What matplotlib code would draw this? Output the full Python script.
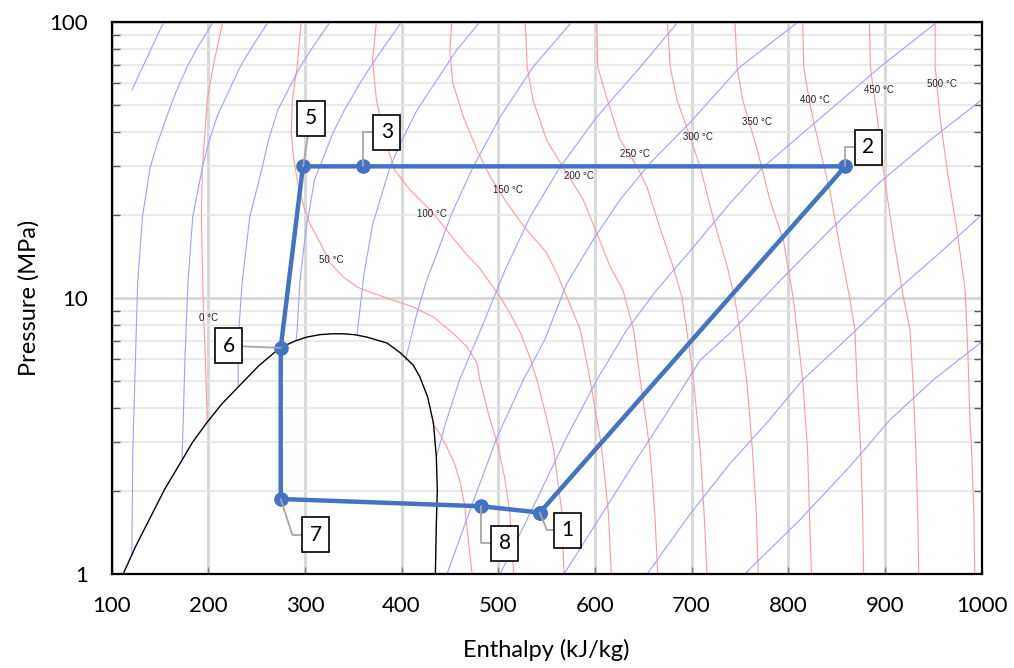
import matplotlib
matplotlib.use('Agg')
import matplotlib.pyplot as plt
from matplotlib.ticker import FixedLocator, NullFormatter

plt.rcParams['font.family'] = ['Lato', 'DejaVu Sans']

# Isotherms of CO2, (enthalpy kJ/kg, pressure MPa)
t000_liq = [(215, 100), (205, 68.7), (199, 52.2), (194, 29.8), (193, 19.7), (194, 12.95),
            (195, 9.05), (197, 6.11), (199, 3.55)]
t000_vap = [(432, 3.52), (440, 3.2), (447, 2.88), (455, 2.5), (460, 2.19), (465, 1.8),
            (468, 1.44), (473, 1.0)]
t050 = [(296, 100), (292, 68.7), (287, 52.2), (286, 39.6), (288, 33.0), (292, 26.8), (299, 21.4),
        (305, 18.7), (316, 15.8), (326, 13.4), (340, 11.9), (354, 10.96), (371, 10.4), (391, 9.83),
        (412, 9.28), (433, 8.53), (453, 7.47), (468, 6.64), (478, 5.81), (481, 5.05), (490, 3.8),
        (500, 2.88), (507, 2.2), (512, 1.66), (516, 1.0)]
t100 = [(374, 100), (370, 72.8), (374, 52.2), (383, 37.4), (393, 29.1), (409, 24.6), (430, 20.8),
        (443, 18.3), (455, 16.2), (468, 14.3), (481, 12.8), (492, 11.3), (502, 10.1), (513, 8.7),
        (523, 7.47), (532, 6.2), (540, 5.05), (549, 3.8), (557, 2.88), (566, 1.66), (568, 1.0)]
t150 = [(452, 100), (450, 79.2), (453, 60.1), (464, 45.3), (478, 34.4), (492, 27.4), (509, 22.1),
        (528, 17.9), (550, 14.6), (561, 12.2), (571, 10.1), (585, 7.66), (595, 5.05), (607, 2.88),
        (614, 1.66), (617, 1.0)]
t200 = [(528, 100), (530, 68.7), (536, 52.2), (550, 37.4), (567, 29.8), (588, 22.7), (602, 17.2),
        (616, 12.95), (629, 10.7), (640, 7.66), (647, 5.05), (657, 2.81), (662, 1.66), (665, 1.0)]
t250 = [(602, 100), (603, 68.7), (613, 52.2), (626, 37.4), (644, 29.8), (654, 25.2), (667, 18.1),
        (681, 12.95), (690, 10.1), (695, 7.66), (702, 5.05), (709, 2.81), (713, 1.66), (716, 1.0)]
t300 = [(675, 100), (678, 68.7), (685, 52.2), (695, 41.6), (709, 29.8), (722, 19.7), (737, 12.95),
        (745, 9.83), (750, 7.66), (757, 5.05), (763, 2.81), (767, 1.66), (769, 1.0)]
t350 = [(745, 100), (747, 68.7), (753, 52.2), (768, 34.4), (781, 22.7), (795, 16.2), (805, 10.1),
        (809, 7.66), (815, 5.05), (820, 2.81), (822, 1.66), (824, 1.0)]
t400 = [(815, 100), (816, 68.7), (823, 49.2), (833, 34.4), (843, 24.6), (854, 14.9), (864, 9.83),
        (869, 7.66), (871, 5.05), (875, 2.81), (877, 1.66), (878, 1.0)]
t450 = [(884, 100), (885, 68.7), (892, 45.3), (898, 29.8), (908, 17.2), (919, 10.1), (926, 7.66),
        (929, 5.05), (932, 2.81), (934, 1.66), (935, 1.0)]
t500 = [(952, 100), (952, 68.7), (957, 45.3), (964, 29.8), (975, 17.2), (983, 10.7), (986, 6.11),
        (988, 3.61), (990, 2.65), (992, 1.66), (993, 1.0)]

# Isentropes
s01 = [(121, 56.7), (137, 74.7), (154, 100)]
s02 = [(205, 100), (190, 82.0), (178, 68.7), (166, 55.0), (157, 45.3), (147, 36.0), (140, 29.8),
       (132, 19.7), (127, 11.3), (125, 6.48), (122, 2.81), (121, 1.19)]
s03 = [(262, 100), (246, 82.0), (233, 68.7), (220, 55.0), (209, 45.3), (200, 36.0), (194, 29.8),
       (184, 19.7), (179, 11.3), (176, 6.11), (173, 2.6)]
s04 = [(326, 100), (309, 82.0), (295, 68.7), (272, 48.0), (262, 37.0), (256, 29.8), (243, 19.7),
       (235, 11.3), (231, 7.04), (231, 4.76)]
s05 = [(400, 100), (376, 76.0), (357, 60.1), (341, 48.0), (329, 39.6), (310, 26.8), (301, 17.6),
       (295, 11.6), (292, 7.66), (291, 7.05)]
s06 = [(481, 100), (457, 79.2), (440, 64.3), (416, 48.0), (400, 37.0), (388, 29.8), (370, 18.4),
       (361, 12.1), (354, 7.38)]
s07 = [(576, 100), (536, 68.7), (502, 45.3), (474, 29.8), (452, 20.3), (440, 15.6), (426, 11.6),
       (416, 8.83), (404, 5.95)]
s08 = [(686, 100), (647, 68.7), (602, 45.3), (564, 29.8), (533, 19.7), (507, 12.6), (486, 8.32),
       (460, 5.05), (445, 3.47), (436, 2.65)]
s09 = [(810, 100), (750, 68.7), (698, 43.1), (657, 30.8), (626, 22.7), (598, 16.2), (571, 11.3),
       (548, 7.04), (526, 5.05), (499, 3.14), (471, 1.71), (447, 1.0)]
s10 = [(954, 100), (895, 68.7), (843, 48.0), (774, 29.8), (740, 22.1), (702, 15.3), (664, 10.7),
       (633, 7.66), (602, 5.05), (571, 3.14), (533, 1.66), (502, 1.0)]
s11 = [(1000, 52.2), (947, 37.4), (895, 26.3), (843, 17.6), (792, 11.6), (740, 7.47), (709, 5.96),
       (673, 3.77), (636, 2.38), (602, 1.54), (568, 1.0)]
s12 = [(1000, 20.0), (957, 14.6), (913, 10.7), (867, 7.47), (815, 5.05), (776, 3.47), (740, 2.52),
       (698, 1.64), (654, 1.0)]
s13 = [(1000, 6.93), (950, 5.05), (905, 3.61), (864, 2.46), (812, 1.57), (755, 1.0)]

# Saturation dome
dome = [(112, 1.0), (125, 1.26), (140, 1.60), (155, 2.03), (171, 2.52), (184, 3.01), (199, 3.55),
        (214, 4.13), (230, 4.72), (252, 5.67), (274, 6.59), (290, 6.99), (302, 7.22), (316, 7.37),
        (329, 7.42), (340, 7.42), (352, 7.36), (364, 7.22), (385, 6.87), (399, 6.32), (412, 5.72),
        (419, 5.17), (427, 4.38), (433, 3.52), (436, 2.65), (437, 2.01), (436, 1.53), (435, 1.0)]

# Isotherm labels
iso_names = ['0 °C', '50 °C', '100 °C', '150 °C', '200 °C', '250 °C', '300 °C', '350 °C',
             '400 °C', '450 °C', '500 °C']
iso_label_h = [200, 327, 431, 510, 583, 641, 707, 768, 828, 894, 959]
iso_label_p = [8.46, 13.7, 20.2, 24.6, 27.7, 33.3, 38.3, 43.4, 52.2, 56.7, 59.6]

# Cycle state points
state_names = ['1', '2', '3', '5', '6', '7', '8']
state_h = [543, 859, 360, 298, 275, 275, 482]
state_p = [1.67, 30, 30, 30, 6.6, 1.87, 1.76]
cycle_order = ['1', '2', '3', '5', '6', '7', '8', '1']

isotherms = [t000_liq, t000_vap, t050, t100, t150, t200, t250, t300, t350, t400, t450, t500]
isentropes = [s01, s02, s03, s04, s05, s06, s07, s08, s09, s10, s11, s12, s13]

fig = plt.figure(figsize=(10.14, 6.68), dpi=100)
ax = fig.add_axes([0.110, 0.1407, 0.858, 0.8263])
ax.set_yscale('log')
ax.set_xlim(100, 1000)
ax.set_ylim(1, 100)

for curve in isotherms:
    ax.plot([c[0] for c in curve], [c[1] for c in curve], color='#ff9a9a', lw=0.8, zorder=2)
for curve in isentropes:
    ax.plot([c[0] for c in curve], [c[1] for c in curve], color='#a0a0ff', lw=0.8, zorder=2)
ax.plot([c[0] for c in dome], [c[1] for c in dome], color='black', lw=1.0, zorder=3)

for name, h, p in zip(iso_names, iso_label_h, iso_label_p):
    ax.text(h, p, name, fontsize=7, family='Liberation Sans', ha='center', va='center',
            color='#222222', zorder=4)

idx = {n: i for i, n in enumerate(state_names)}
ax.plot([state_h[idx[n]] for n in cycle_order], [state_p[idx[n]] for n in cycle_order],
        color='#4472c4', lw=3.2, marker='o', ms=9.5, zorder=6)

# label boxes with leader lines (offsets in pixels)
leaders = {
    '1': ((28, -17.5), 'angle,angleA=0,angleB=-68,rad=0'),
    '2': ((23, 19), 'angle,angleA=0,angleB=90,rad=0'),
    '3': ((24, 34), 'angle,angleA=0,angleB=90,rad=0'),
    '5': ((8, 48), 'arc3'),
    '6': ((-52, 2), 'arc3'),
    '7': ((35, -36), 'angle,angleA=0,angleB=-72,rad=0'),
    '8': ((24, -37), 'angle,angleA=0,angleB=90,rad=0'),
}
for n in state_names:
    off, conn = leaders[n]
    ax.annotate(n, xy=(state_h[idx[n]], state_p[idx[n]]), xytext=off, textcoords='offset pixels',
                ha='center', va='center', fontsize=15, zorder=7,
                bbox=dict(boxstyle='square,pad=0.36', fc='white', ec='black', lw=1.2),
                arrowprops=dict(arrowstyle='-', color='#a6a6a6', lw=1.3, shrinkA=0, shrinkB=0,
                                connectionstyle=conn))

ax.set_xticks(range(100, 1001, 100))
ax.yaxis.set_major_locator(FixedLocator([1, 10, 100]))
ax.set_yticklabels(['1', '10', '100'])
ax.yaxis.set_minor_locator(FixedLocator([m * d for d in (1, 10) for m in range(2, 10)]))
ax.yaxis.set_minor_formatter(NullFormatter())

ax.set_axisbelow(True)
ax.grid(which='major', color='#d9d9d9', lw=2.2)
ax.grid(which='minor', axis='y', color='#e6e6e6', lw=1.2)

ax.tick_params(axis='x', which='major', direction='in', length=5, width=1, color='#7f7f7f',
               labelsize=16, pad=16)
ax.tick_params(axis='y', which='major', direction='in', length=0, labelsize=16, pad=17)
ax.tick_params(axis='y', which='minor', direction='in', length=6, width=1, color='#595959',
               left=True, right=True)
for sp in ax.spines.values():
    sp.set_linewidth(1.6)
    sp.set_color('black')
    sp.set_zorder(8)

ax.set_xlabel('Enthalpy (kJ/kg)', fontsize=17)
ax.set_ylabel('Pressure (MPa)', fontsize=17)
ax.xaxis.set_label_coords(0.5, -0.118)
ax.yaxis.set_label_coords(-0.083, 0.5)

fig.savefig('out.png', dpi=100)
